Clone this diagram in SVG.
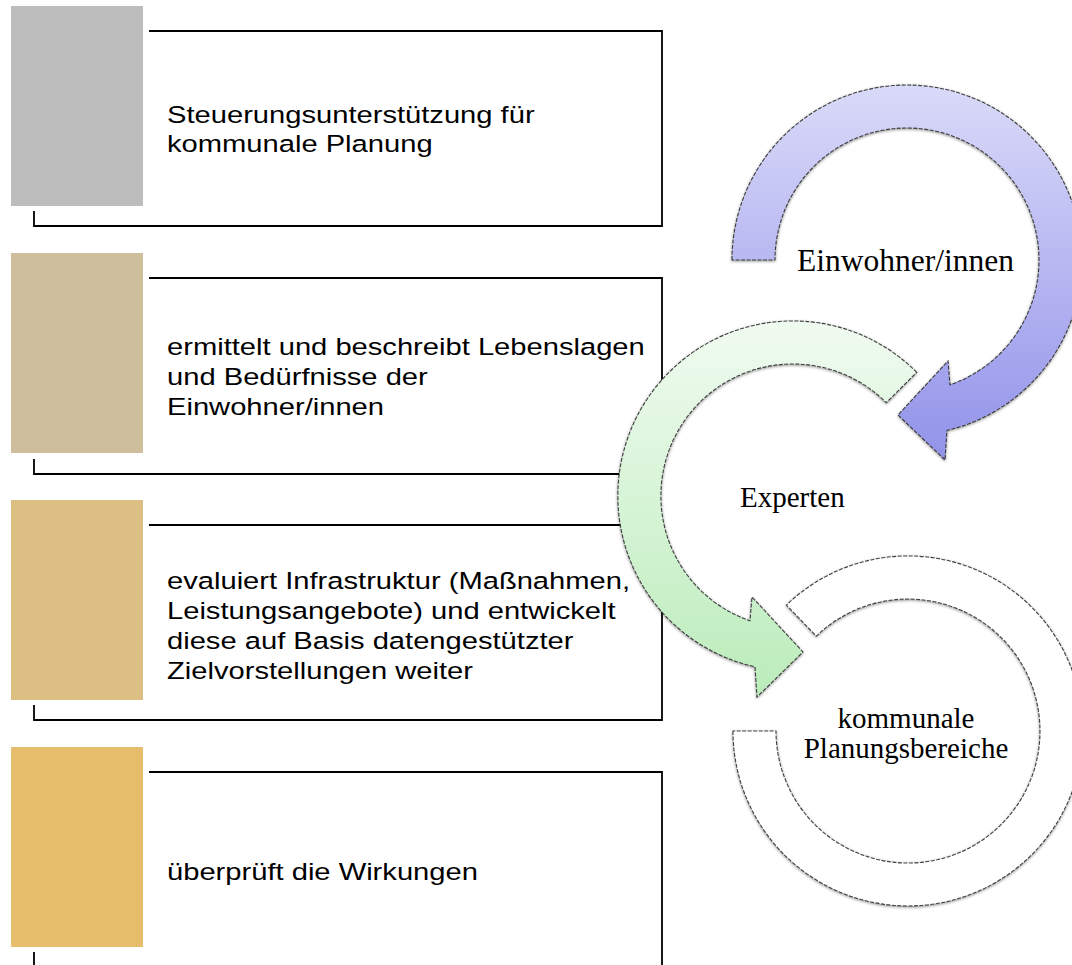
<svg xmlns="http://www.w3.org/2000/svg" width="1072" height="965" viewBox="0 0 1072 965">
<style>
.frame{fill:none;stroke:#000;stroke-width:1.8}
.lbl{font-family:"Liberation Sans",Arial,sans-serif;font-size:24.5px;fill:#000}
.ser{font-family:"Liberation Serif","Times New Roman",serif;font-size:29px;fill:#000}
.arr{stroke:#2e2e2e;stroke-width:1.1;stroke-dasharray:4 1.5;stroke-opacity:0.9;filter:url(#sh)}
</style>
<defs>
<filter id="sh" x="-10%" y="-10%" width="120%" height="120%">
<feGaussianBlur in="SourceAlpha" stdDeviation="1.8"/>
<feOffset dx="0" dy="1" result="b"/>
<feComponentTransfer><feFuncA type="linear" slope="0.45"/></feComponentTransfer>
<feMerge><feMergeNode/><feMergeNode in="SourceGraphic"/></feMerge>
</filter>
<linearGradient id="gBlue" gradientUnits="userSpaceOnUse" x1="0" y1="85" x2="0" y2="460">
<stop offset="0" stop-color="#DADAF9"/>
<stop offset="1" stop-color="#9292EA"/>
</linearGradient>
<linearGradient id="gGreen" gradientUnits="userSpaceOnUse" x1="0" y1="321" x2="0" y2="697">
<stop offset="0" stop-color="#F0FBF0"/>
<stop offset="1" stop-color="#BBECBB"/>
</linearGradient>
</defs>

<g id="box1">
<rect x="11" y="6" width="132" height="200" fill="#BDBDBD"/>
<path class="frame" d="M149,31 H662 V226 H34 V211"/>
<text class="lbl" transform="translate(167,122.5) scale(1.19,1)"><tspan x="0" y="0">Steuerungsunterstützung für</tspan><tspan x="0" y="30">kommunale Planung</tspan></text>
</g>

<g id="box2">
<rect x="11" y="253" width="132" height="200" fill="#CEBE9C"/>
<path class="frame" d="M149,278 H662 V474 H34 V459"/>
<text class="lbl" transform="translate(167,355) scale(1.19,1)"><tspan x="0" y="0">ermittelt und beschreibt Lebenslagen</tspan><tspan x="0" y="30">und Bedürfnisse der</tspan><tspan x="0" y="60">Einwohner/innen</tspan></text>
</g>

<g id="box3">
<rect x="11" y="500" width="132" height="200" fill="#DCBF83"/>
<path class="frame" d="M149,525 H662 V720 H34 V705"/>
<text class="lbl" transform="translate(167,589) scale(1.19,1)"><tspan x="0" y="0">evaluiert Infrastruktur (Maßnahmen,</tspan><tspan x="0" y="30">Leistungsangebote) und entwickelt</tspan><tspan x="0" y="60">diese auf Basis datengestützter</tspan><tspan x="0" y="90">Zielvorstellungen weiter</tspan></text>
</g>

<g id="box4">
<rect x="11" y="747" width="132" height="200" fill="#E5BD6B"/>
<path class="frame" d="M149,772 H662 V967 H34 V952"/>
<text class="lbl" transform="translate(167,880) scale(1.19,1)"><tspan x="0" y="0">überprüft die Wirkungen</tspan></text>
</g>

<g id="node-kommunal">
<path class="arr" fill="#FFFFFF" d="M733,731 A175,175 0 1 0 786.4,605.1 L816.3,636.1 A132,132 0 1 1 776,731 Z"/>
<text class="ser" text-anchor="middle"><tspan x="906" y="728">kommunale</tspan><tspan x="906" y="758">Planungsbereiche</tspan></text>
</g>

<g id="node-experten">
<path class="arr" fill="url(#gGreen)" d="M916.7,372.3 A175,175 0 1 0 755,666.8 L757,697 L803,652 L752,597 L750,620.8 A132,132 0 1 1 886.3,402.7 Z"/>
<text class="ser" x="740" y="507">Experten</text>
</g>

<g id="node-einwohner">
<path class="arr" fill="url(#gBlue)" d="M732,260 A175,175 0 1 1 947,430.4 L945,460 L898,415 L948,361 L950,384.8 A132,132 0 1 0 775,260 Z"/>
<text class="ser" x="797" y="271" style="font-size:31.5px">Einwohner/innen</text>
</g>
</svg>
